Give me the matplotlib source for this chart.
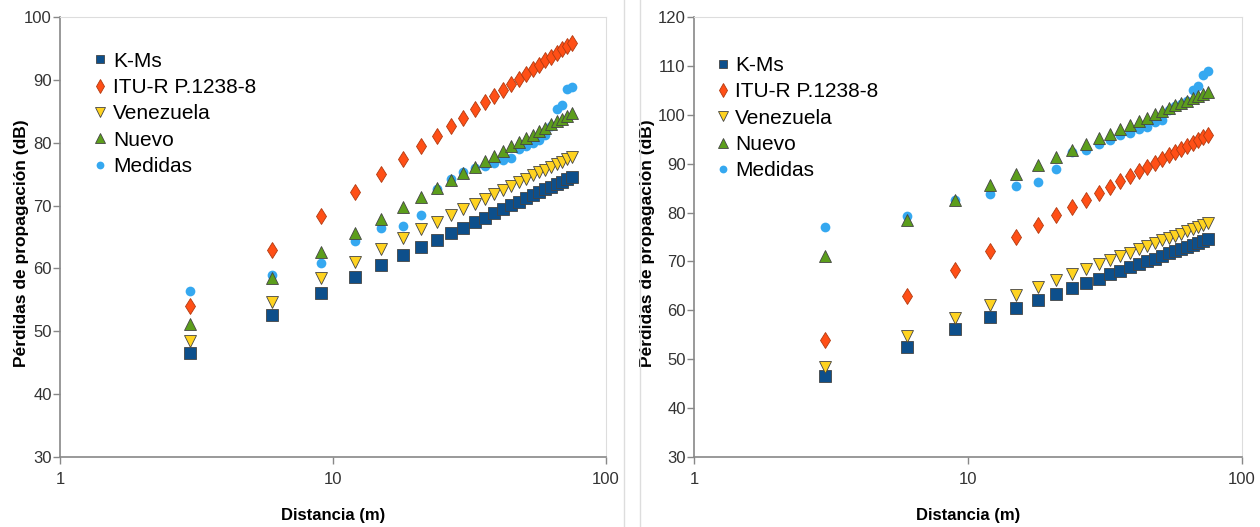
import matplotlib
matplotlib.use("Agg")
import matplotlib.pyplot as plt
from matplotlib.lines import Line2D
from matplotlib.ticker import FixedLocator, FixedFormatter, NullLocator

# distance (m)
distancia = [3, 6, 9, 12, 15, 18, 21, 24, 27, 30, 33, 36, 39, 42, 45, 48, 51,
             54, 57, 60, 63, 66, 69, 72, 75]

# model curves (dB)
kms = [46.5, 52.6, 56.1, 58.6, 60.5, 62.1, 63.4, 64.6, 65.6, 66.5, 67.4, 68.1,
       68.8, 69.5, 70.1, 70.6, 71.2, 71.7, 72.1, 72.6, 73.0, 73.4, 73.8, 74.2, 74.5]
itu = [54.0, 63.0, 68.3, 72.1, 75.0, 77.4, 79.4, 81.1, 82.6, 84.0, 85.3, 86.4,
       87.4, 88.4, 89.3, 90.1, 90.9, 91.7, 92.4, 93.1, 93.7, 94.3, 94.9, 95.4, 95.9]
venezuela = [48.4, 54.7, 58.4, 61.1, 63.1, 64.8, 66.2, 67.4, 68.5, 69.4, 70.3, 71.1,
             71.8, 72.5, 73.1, 73.7, 74.3, 74.8, 75.3, 75.7, 76.2, 76.6, 77.0, 77.4, 77.8]

# left chart
nuevo_a = [51.2, 58.4, 62.6, 65.6, 67.9, 69.8, 71.4, 72.8, 74.1, 75.2, 76.1, 77.1,
           77.9, 78.7, 79.4, 80.1, 80.7, 81.3, 81.9, 82.4, 82.9, 83.4, 83.8, 84.3, 84.7]
medidas_a = [56.4, 59.0, 60.9, 64.4, 66.4, 66.8, 68.5, 72.6, 74.3, 75.4, 76.0, 76.3,
             76.8, 77.3, 77.5, 79.0, 79.4, 79.9, 80.5, 81.2, 82.6, 85.3, 86.0, 88.5, 88.8]

# right chart
nuevo_b = [71.2, 78.4, 82.6, 85.6, 87.9, 89.8, 91.4, 92.8, 94.1, 95.2, 96.1, 97.1,
           97.9, 98.7, 99.4, 100.1, 100.7, 101.3, 101.9, 102.4, 102.9, 103.4, 103.8, 104.3, 104.7]
medidas_b = [77.0, 79.2, 82.5, 83.8, 85.4, 86.3, 89.0, 92.3, 92.8, 94.0, 94.8, 95.8,
             96.2, 97.1, 97.6, 98.6, 98.9, 101.0, 101.8, 102.3, 102.9, 105.1, 105.9, 108.1, 109.0]

plt.rcParams["font.family"] = ["Liberation Sans", "DejaVu Sans"]

fig = plt.figure(figsize=(12.6, 5.27), dpi=100)
axA = fig.add_axes([60 / 1260, 70 / 527, 546 / 1260, 440 / 527])
axB = fig.add_axes([694 / 1260, 70 / 527, 548 / 1260, 440 / 527])

# separator lines between the two charts
for xp in (624, 640):
    fig.add_artist(Line2D([xp / 1260, xp / 1260], [0, 1], color="#dddddd", lw=1))

edge = "#444444"
series = [
    ("K-Ms", "s", "#0d4f8b", 8, edge),
    ("ITU-R P.1238-8", "d", "#ff4f16", 8.5, "#b03a10"),
    ("Venezuela", "v", "#ffd320", 8.5, edge),
    ("Nuevo", "^", "#5c9e1c", 8.5, edge),
    ("Medidas", "o", "#35a8f0", 7, "none"),
]


def draw(ax, nuevo, medidas, ymax, ylab_x, leg_x, leg_y):
    data = [kms, itu, venezuela, nuevo, medidas]
    zs = [3, 4, 5, 6, 2]
    for (lab, mk, col, ms, ec), vals, z in zip(series, data, zs):
        ax.plot(distancia, vals, linestyle="none", marker=mk, color=col, ms=ms,
                mec=ec, mew=0.6, label=lab, zorder=z)
    ax.set_xscale("log")
    ax.set_xlim(1, 100)
    ax.set_ylim(30, ymax)
    ax.xaxis.set_major_locator(FixedLocator([1, 10, 100]))
    ax.xaxis.set_major_formatter(FixedFormatter(["1", "10", "100"]))
    ax.xaxis.set_minor_locator(NullLocator())
    ax.set_yticks(range(30, ymax + 1, 10))
    for sp in ("left", "bottom"):
        ax.spines[sp].set_color("#888888")
        ax.spines[sp].set_linewidth(1.2)
    for sp in ("top", "right"):
        ax.spines[sp].set_color("#dddddd")
    ax.tick_params(axis="both", direction="out", length=5, width=1, color="#888888",
                   labelcolor="#333333", labelsize=12, pad=1)
    ax.tick_params(axis="x", pad=6)
    ax.set_xlabel("Distancia (m)", fontsize=12, fontweight="bold")
    ax.xaxis.set_label_coords(0.5, -0.115)
    ax.set_ylabel("Pérdidas de propagación (dB)", fontsize=12.5, fontweight="bold")
    ax.yaxis.set_label_coords(ylab_x, 0.485)
    leg = ax.legend(loc="upper left", bbox_to_anchor=(leg_x, leg_y), frameon=False,
                    fontsize=15, handletextpad=0.0, handlelength=1.2,
                    labelspacing=0.35, borderaxespad=0, markerscale=0.8)
    for t in leg.get_texts():
        t.set_color("#000000")


draw(axA, nuevo_a, medidas_a, 100, -0.057, 0.036, 0.94)
draw(axB, nuevo_b, medidas_b, 120, -0.072, 0.014, 0.93)

fig.savefig("out.png", dpi=100)
